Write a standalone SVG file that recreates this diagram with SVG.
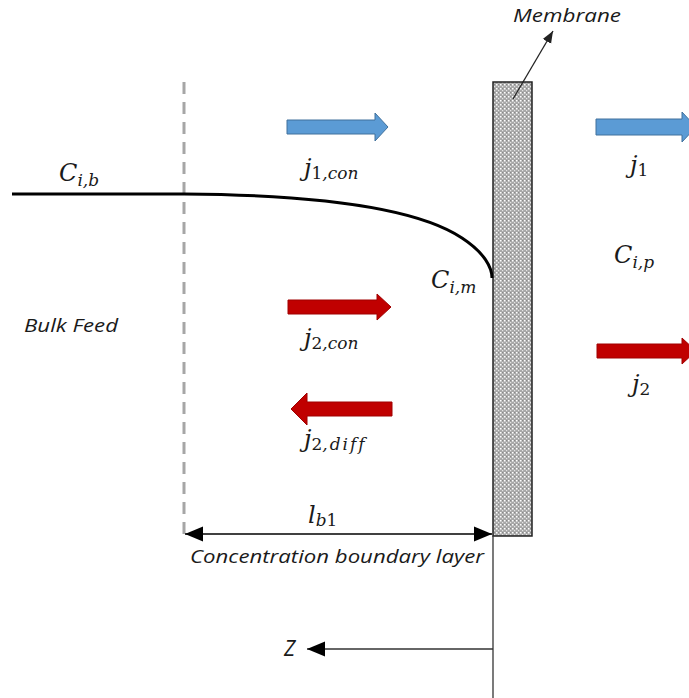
<svg xmlns="http://www.w3.org/2000/svg" width="689" height="698" viewBox="0 0 689 698">
<style>
.math{font-family:"DejaVu Serif","Liberation Serif",serif;font-style:italic;fill:#1a1a1a}
.lbl{font-family:"Open Sans","Liberation Sans",sans-serif;font-style:italic;fill:#1a1a1a}
.blue{fill:#5b9bd5;stroke:#41719c;stroke-width:1}
.red{fill:#c00000;stroke:#a00000;stroke-width:1}
</style>
<defs>
<pattern id="dots" width="4" height="4" patternUnits="userSpaceOnUse">
<rect width="4" height="4" fill="#a8a8a8"/>
<rect x="0" y="0" width="1.5" height="1.5" fill="#ffffff"/>
<rect x="2" y="2" width="1.2" height="1.2" fill="#e6e6e6"/>
<rect x="2" y="0" width="1" height="1" fill="#888"/>
</pattern>
<marker id="ah" viewBox="0 0 18 16" refX="18" refY="8" markerWidth="18" markerHeight="16" orient="auto-start-reverse" markerUnits="userSpaceOnUse">
<path d="M0,0.5 L18,8 L0,15.5 z" fill="#000"/>
</marker>
<marker id="ahs" viewBox="0 0 10 10" refX="10" refY="5" markerWidth="12" markerHeight="12" orient="auto-start-reverse" markerUnits="userSpaceOnUse">
<path d="M0,1 L10,5 L0,9 z" fill="#222"/>
</marker>
</defs>

<g id="boundary">
<line x1="184" y1="82" x2="184" y2="535" stroke="#a6a6a6" stroke-width="3" stroke-dasharray="12,8"/>
</g>

<g id="membrane">
<rect x="493" y="82" width="39" height="454" fill="url(#dots)" stroke="#222" stroke-width="1.5"/>
</g>

<g id="connectors">
<path d="M12,194 L184,194 C330,195 420,210 462,238 C485,253 492,268 492,278" fill="none" stroke="#000" stroke-width="3"/>
<line x1="513" y1="99" x2="553" y2="31" stroke="#222" stroke-width="1.3" marker-end="url(#ahs)"/>
<line x1="185" y1="534" x2="492" y2="534" stroke="#000" stroke-width="1.5" marker-start="url(#ah)" marker-end="url(#ah)"/>
<line x1="493" y1="536" x2="493" y2="698" stroke="#333" stroke-width="1.3"/>
<line x1="493" y1="649" x2="307" y2="649" stroke="#333" stroke-width="1.5" marker-end="url(#ah)"/>
</g>

<g id="arrow-j1con"><path class="blue" d="M287,120 H375 V113 L388,127 L375,141 V134 H287 Z"/></g>
<g id="arrow-j1"><path class="blue" d="M596,119 H682 V112 L696,127 L682,142 V135 H596 Z"/></g>
<g id="arrow-j2con"><path class="red" d="M288,300 H377 V294 L391,307 L377,320 V314 H288 Z"/></g>
<g id="arrow-j2diff"><path class="red" d="M392,402 H307 V393 L291,409 L307,425 V416 H392 Z"/></g>
<g id="arrow-j2"><path class="red" d="M597,344 H682 V338 L696,351 L682,364 V358 H597 Z"/></g>

<g id="labels">
<text class="lbl" x="513" y="22" font-size="18" textLength="108" lengthAdjust="spacingAndGlyphs">Membrane</text>
<text class="math" x="59" y="181" font-size="24">C<tspan font-size="17" dy="5">i,b</tspan></text>
<text class="math" x="304" y="176" font-size="24">j<tspan font-size="17" dy="3" font-style="normal">1</tspan><tspan font-size="17">,con</tspan></text>
<text class="math" x="630" y="173" font-size="24">j<tspan font-size="17" dy="3" font-style="normal">1</tspan></text>
<text class="math" x="614" y="263" font-size="24">C<tspan font-size="17" dy="5">i,p</tspan></text>
<text class="math" x="431" y="288" font-size="24">C<tspan font-size="17" dy="5">i,m</tspan></text>
<text class="lbl" x="24" y="332" font-size="18" textLength="94" lengthAdjust="spacingAndGlyphs">Bulk Feed</text>
<text class="math" x="304" y="346" font-size="24">j<tspan font-size="17" dy="3" font-style="normal">2</tspan><tspan font-size="17">,con</tspan></text>
<text class="math" x="632" y="392" font-size="24">j<tspan font-size="17" dy="3" font-style="normal">2</tspan></text>
<text class="math" x="304" y="447" font-size="24">j<tspan font-size="17" dy="3" font-style="normal">2</tspan><tspan font-size="17" letter-spacing="2">,diff</tspan></text>
<text class="math" x="308" y="523" font-size="24">l<tspan font-size="17" dy="3">b</tspan><tspan font-size="17" font-style="normal">1</tspan></text>
<text class="lbl" x="190" y="563" font-size="18" textLength="294" lengthAdjust="spacingAndGlyphs">Concentration boundary layer</text>
<text class="lbl" x="284" y="656" font-size="21">Z</text>
</g>
</svg>
